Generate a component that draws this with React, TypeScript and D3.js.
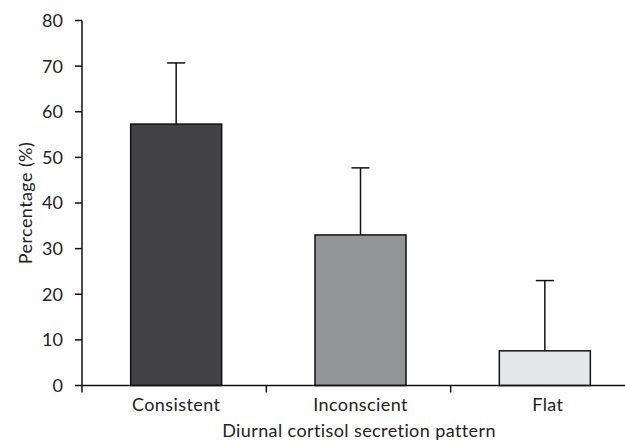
import React from 'react';
import * as d3 from 'd3';

const categories = ['Consistent', 'Inconscient', 'Flat'];
const values = [57.3, 33.0, 7.6];
const errors = [13.4, 14.7, 15.4];
const yTicks = [0, 10, 20, 30, 40, 50, 60, 70, 80];
const fills = ['#434345', '#949598', '#e6e7e8'];

const width = 625;
const height = 441;
const margin = { top: 20.5, left: 82, bottom: 385.5 };

const App = () => {
    const x = d3.scaleBand<string>()
        .domain(categories)
        .range([margin.left, 635])
        .paddingInner(0)
        .paddingOuter(0);

    const y = d3.scaleLinear()
        .domain([0, 80])
        .range([margin.bottom, margin.top]);

    const barW = 91;
    const font = 'Lato, "Open Sans", sans-serif';
    const fs = 18;

    return (
        <svg width={width} height={height} style={{ position: 'absolute', left: 0, top: 0 }}>
            <rect width={width} height={height} fill="#fff" />
            {/* bars with error bars */}
            {categories.map((c, i) => {
                const cx = x(c)! + x.bandwidth() / 2 + 2;
                return (
                    <g key={c}>
                        <line x1={cx} x2={cx} y1={y(values[i])} y2={y(values[i] + errors[i])} stroke="#111" strokeWidth={1.5} />
                        <line x1={cx - 9} x2={cx + 9} y1={y(values[i] + errors[i])} y2={y(values[i] + errors[i])} stroke="#111" strokeWidth={1.5} />
                        <rect x={cx - barW / 2} y={y(values[i])} width={barW} height={y(0) - y(values[i])}
                            fill={fills[i]} stroke="#111" strokeWidth={1.5} />
                    </g>
                );
            })}
            {/* y axis */}
            <line x1={margin.left} x2={margin.left} y1={y(80)} y2={y(0) + 7} stroke="#111" strokeWidth={1.5} />
            {yTicks.map(t => (
                <g key={t}>
                    <line x1={margin.left - 7} x2={margin.left} y1={y(t)} y2={y(t)} stroke="#111" strokeWidth={1.5} />
                    <text x={margin.left - 19} y={y(t)} dy="0.36em" textAnchor="end" fontSize={fs}
                        fontFamily={font} fill="#222">{t}</text>
                </g>
            ))}
            {/* x axis */}
            <line x1={margin.left} x2={width} y1={y(0)} y2={y(0)} stroke="#111" strokeWidth={1.5} />
            {categories.slice(1).map(c => (
                <line key={c} x1={x(c)!} x2={x(c)!} y1={y(0)} y2={y(0) + 7} stroke="#111" strokeWidth={1.5} />
            ))}
            {categories.map((c, i) => (
                <text key={c} x={x(c)! + x.bandwidth() / 2 + (i === 2 ? 5 : 2)} y={411} textAnchor="middle"
                    fontSize={fs} letterSpacing={0.4} fontFamily={font} fill="#222">{c}</text>
            ))}
            <text x={359} y={437} textAnchor="middle" fontSize={fs} letterSpacing={0.4} fontFamily={font} fill="#222">
                Diurnal cortisol secretion pattern
            </text>
            <text transform={`translate(32,${(y(0) + y(80)) / 2}) rotate(-90)`} textAnchor="middle"
                fontSize={fs} letterSpacing={0.4} fontFamily={font} fill="#222">Percentage (%)</text>
        </svg>
    );
};

export default App;
